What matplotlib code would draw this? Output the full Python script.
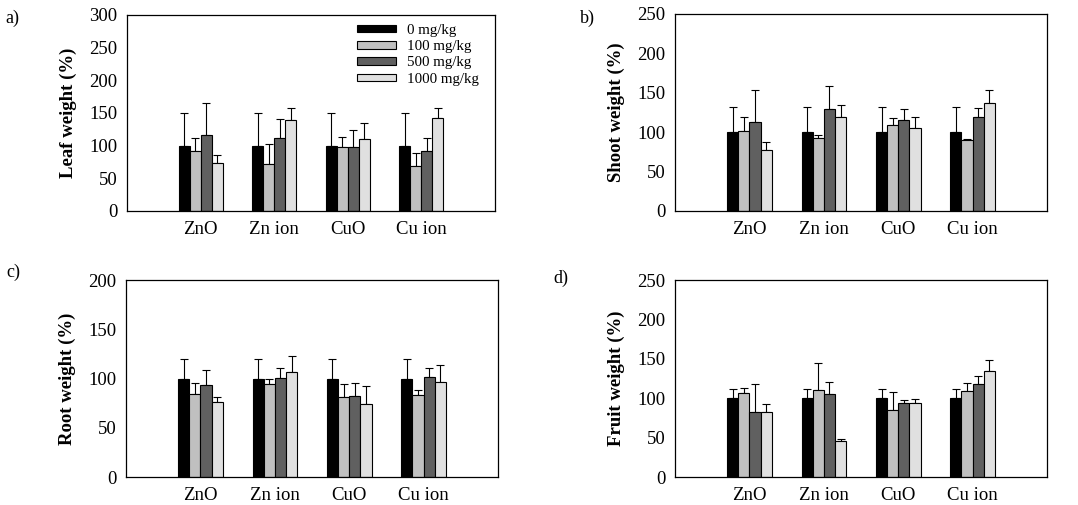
import numpy as np
import matplotlib
matplotlib.use("Agg")
import matplotlib.pyplot as plt

plt.rcParams['font.family'] = ['Liberation Serif', 'DejaVu Serif']

groups = ["ZnO", "Zn ion", "CuO", "Cu ion"]
doses = ["0 mg/kg", "100 mg/kg", "500 mg/kg", "1000 mg/kg"]
colors = ["#000000", "#c0c0c0", "#606060", "#e0e0e0"]

# mean values per dose (rows) for each group (columns); error = upper SD
leaf_mean = [[100, 100, 100, 100], [92, 72, 98, 69], [116, 112, 98, 92], [74, 139, 110, 142]]
leaf_top = [[150, 150, 150, 150], [111, 102, 113, 88], [165, 141, 124, 112], [85, 157, 134, 157]]
shoot_mean = [[100, 100, 100, 100], [102, 93, 109, 90.5], [113, 129, 115.5, 119.5], [77, 119.5, 105, 137]]
shoot_top = [[132, 132, 132, 132], [119.5, 96.5, 118, 91.5], [154, 158, 130, 131], [88, 135, 119.5, 154]]
root_mean = [[100, 100, 100, 100], [84, 94, 81, 83], [93, 101, 82, 101.5], [76, 106.5, 74, 96]]
root_top = [[120, 120, 120, 120], [95, 99.7, 94, 88], [108.5, 110.5, 95, 110.5], [81, 123, 92, 113.5]]
fruit_mean = [[100, 100, 100, 100], [106.5, 110.5, 85, 109.5], [83, 105.5, 94, 118], [83, 46, 94, 134.5]]
fruit_top = [[111.5, 111.5, 111.5, 111.5], [113, 144.5, 107.5, 119], [118, 120.5, 97.5, 128], [92.5, 48.5, 99, 148.5]]

panels = [
    ("a)", "Leaf weight (%)", leaf_mean, leaf_top, 300, [0.1178, 0.5822, 0.3414, 0.3881], (5, 18)),
    ("b)", "Shoot weight (%)", shoot_mean, shoot_top, 250, [0.6262, 0.5822, 0.3451, 0.3901], (580, 18)),
    ("c)", "Root weight (%)", root_mean, root_top, 200, [0.1169, 0.0554, 0.3451, 0.3901], (6, 272)),
    ("d)", "Fruit weight (%)", fruit_mean, fruit_top, 250, [0.6262, 0.0554, 0.3451, 0.3901], (553, 278)),
]

fig = plt.figure(figsize=(10.78, 5.05), dpi=100)
x = np.arange(1, len(groups) + 1)
w = 0.15
for lab, ylab, mean, top, ymax, pos, lpos in panels:
    ax = fig.add_axes(pos)
    for i in range(4):
        m = np.array(mean[i]); t = np.array(top[i])
        xi = x + (i - 1.5) * w
        ax.bar(xi, m, width=w, color=colors[i], edgecolor="black", linewidth=0.8,
               label=doses[i], zorder=2)
        ax.errorbar(xi, m, yerr=[np.zeros_like(m), t - m], fmt="none", ecolor="black",
                    elinewidth=0.8, capsize=3, capthick=0.8, zorder=1)
    ax.set_xlim(0, 5)
    ax.set_ylim(0, ymax)
    ax.set_yticks(np.arange(0, ymax + 1, 50))
    ax.set_xticks(x)
    ax.set_xticklabels(groups)
    ax.tick_params(length=0, labelsize=13.5, pad=7)
    ax.tick_params(axis="x", pad=7)
    ax.set_ylabel(ylab, fontsize=13.5, fontweight="bold", labelpad=9)
    for s in ax.spines.values():
        s.set_linewidth(0.9)
    fig.text(lpos[0] / 1078, 1 - lpos[1] / 505, lab, fontsize=13, va="center", ha="left")
    if lab == "a)":
        ax.legend(loc="upper left", bbox_to_anchor=(0.625, 0.955), frameon=False,
                  fontsize=10.8, handlelength=2.6, handleheight=0.4, handletextpad=0.75,
                  labelspacing=0.22, borderpad=0, borderaxespad=0)

fig.savefig("out.png", dpi=100)
